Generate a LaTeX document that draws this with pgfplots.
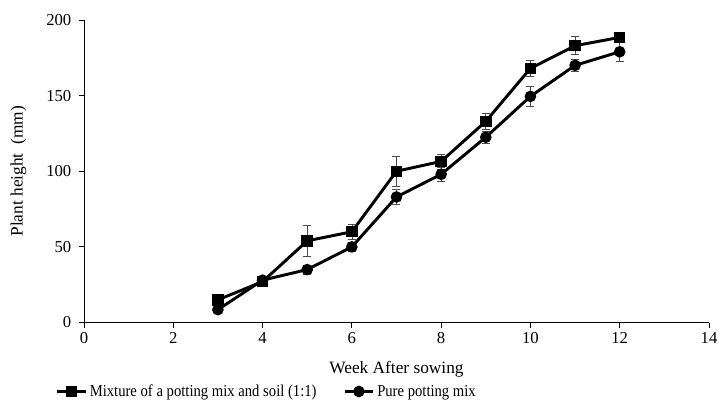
\documentclass[border=0pt]{standalone}
\usepackage{fontspec}
\setmainfont{Liberation Serif}
\newfontfamily\legfont[FakeStretch=0.88]{Liberation Serif}
\usepackage{pgfplots}
\pgfplotsset{compat=1.18}
\begin{document}
\begin{tikzpicture}
\begin{axis}[
  at={(0,0)}, anchor=south west,
  scale only axis, width=469pt, height=227pt,
  xmin=0, xmax=14, ymin=0, ymax=200,
  xtick={0,2,...,14}, ytick={0,50,...,200},
  axis x line*=bottom, axis y line*=left,
  axis line style={-, black, line width=0.6pt},
  tick align=outside, major tick length=4pt,
  tick style={black, line width=0.6pt},
  /pgf/number format/assume math mode=true,
  ticklabel style={font=\fontsize{12.5}{14}\selectfont},
  yticklabel style={xshift=-2pt},
  xlabel={Week After sowing},
  ylabel={Plant height\ \ (mm)},
  label style={font=\fontsize{13}{15}\selectfont},
  xlabel style={yshift=-6pt},
  ylabel style={yshift=8pt},
  legend columns=2,
  legend style={at={(0.293,-0.228)}, anchor=center, draw=none,
    font=\legfont\fontsize{12.5}{14}\selectfont, /tikz/every even column/.append style={column sep=18pt}},
  legend image code/.code={
    \draw[#1, line width=2pt] (0cm,0cm) -- (0.75cm,0cm);
    \draw[#1, mark repeat=2, mark phase=2] plot coordinates {(0cm,0cm) (0.375cm,0cm) (0.75cm,0cm)};
  },
]
\addplot[black, line width=2.2pt, mark=square*, mark size=3.2pt, mark options={solid},
  error bars/.cd, y dir=both, y explicit,
  error bar style={line width=0.5pt, black!70},
  error mark options={rotate=90, mark size=3pt, line width=0.5pt, black!70}]
  coordinates {
  (3,15) +- (0,2)
  (4,27) +- (0,2)
  (5,54) +- (0,10)
  (6,60) +- (0,5)
  (7,100) +- (0,10)
  (8,106.5) +- (0,5)
  (9,133) +- (0,5)
  (10,168) +- (0,5.5)
  (11,183) +- (0,6)
  (12,188.5) +- (0,2.5)
  };
\addlegendentry{Mixture of a potting mix and soil (1:1)}
\addplot[black, line width=2.2pt, mark=*, mark size=3.2pt, mark options={solid},
  error bars/.cd, y dir=both, y explicit,
  error bar style={line width=0.5pt, black!70},
  error mark options={rotate=90, mark size=3pt, line width=0.5pt, black!70}]
  coordinates {
  (3,8.5) +- (0,2)
  (4,28) +- (0,2)
  (5,35) +- (0,3)
  (6,50) +- (0,3)
  (7,83) +- (0,5)
  (8,98) +- (0,4.5)
  (9,122.5) +- (0,4)
  (10,149.5) +- (0,6.5)
  (11,170) +- (0,4)
  (12,179) +- (0,6.5)
  };
\addlegendentry{Pure potting mix}
\end{axis}
\pgfresetboundingbox
\path (-63pt,-69pt) rectangle (476.5pt,242pt);
\end{tikzpicture}
\end{document}
